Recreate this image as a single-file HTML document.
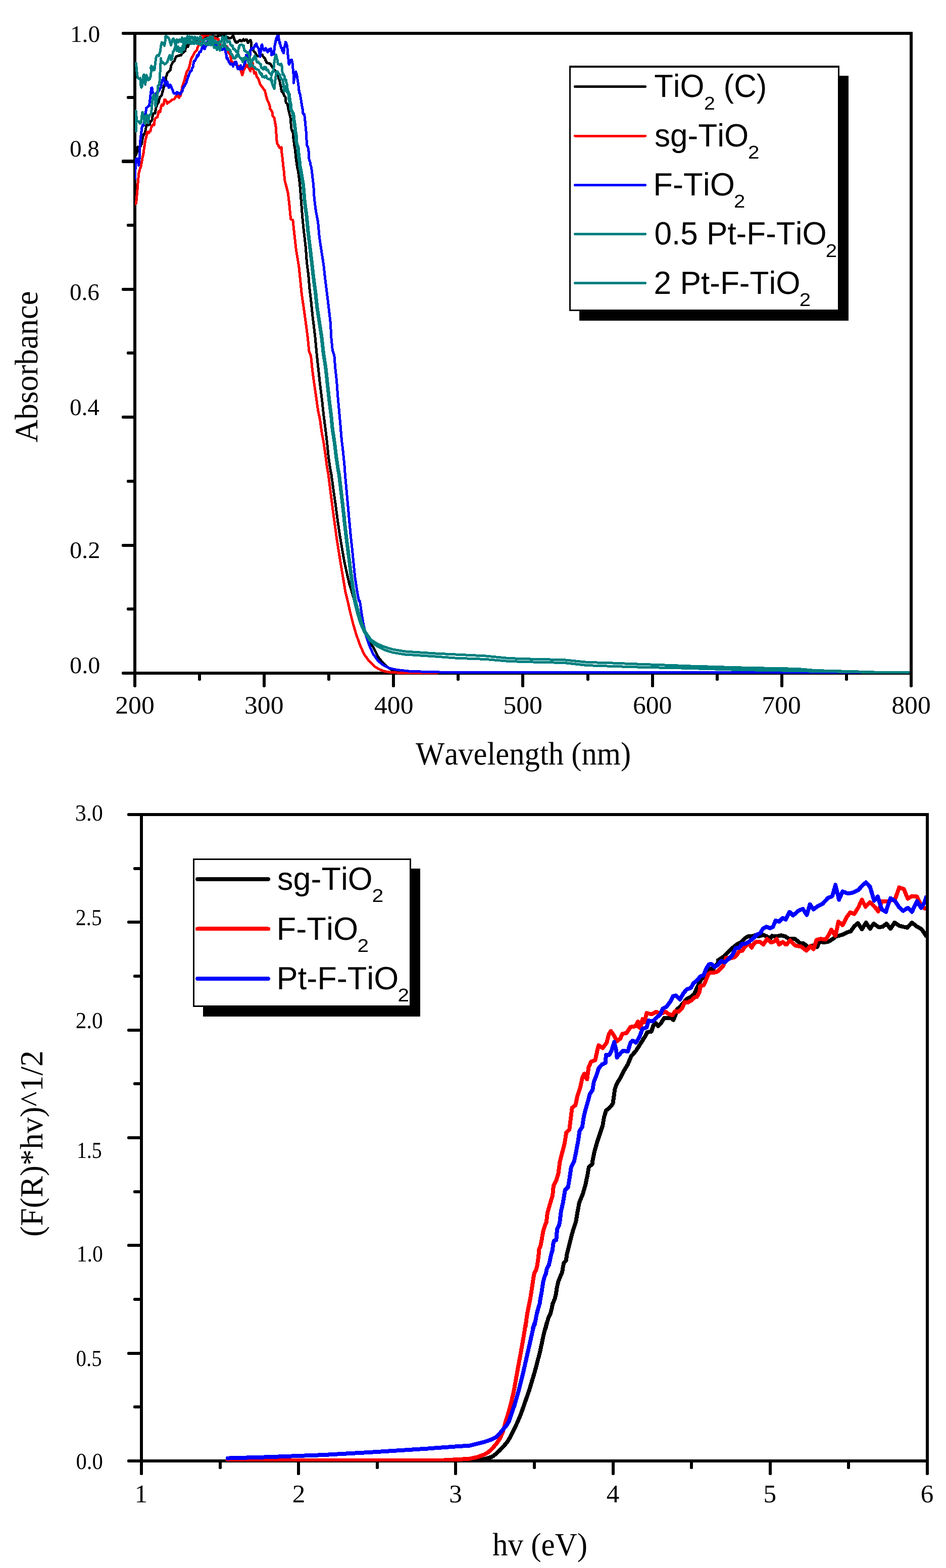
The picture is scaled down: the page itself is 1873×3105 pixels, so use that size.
<!DOCTYPE html>
<html lang="en">
<head>
<meta charset="utf-8">
<title>UV-Vis absorbance and Kubelka-Munk plots</title>
<style>
html,body{margin:0;padding:0;background:#fff;}
body{width:1873px;height:3105px;overflow:hidden;}
svg{display:block;}
.sr,.sn{font-kerning:none;text-rendering:geometricPrecision;}
.sr{font-family:'Liberation Serif', serif;fill:#000;}
.sn{font-family:'Liberation Sans', sans-serif;fill:#000;}
.cv path{fill:none;stroke-linejoin:round;stroke-linecap:round;}
</style>
</head>
<body>
<svg width="1873" height="3105" viewBox="0 0 1873 3105">
<defs>
<clipPath id="ct"><rect x="267" y="69" width="1534" height="1267"/></clipPath>
<clipPath id="cb"><rect x="283" y="1616" width="1550" height="1278"/></clipPath>
</defs>
<rect x="0" y="0" width="1873" height="3105" fill="#fff"/>
<g id="top-axes" shape-rendering="crispEdges">
<rect x="264" y="63" width="6" height="1273" fill="#000"/>
<rect x="1801" y="63" width="6" height="1273" fill="#000"/>
<rect x="264" y="63" width="1543" height="6" fill="#000"/>
<rect x="264" y="1330" width="1543" height="6" fill="#000"/>
<rect x="242" y="316" width="25" height="7" fill="#000"/>
<rect x="241" y="317" width="1" height="5" fill="#000"/>
<rect x="242" y="570" width="25" height="6" fill="#000"/>
<rect x="241" y="571" width="1" height="4" fill="#000"/>
<rect x="242" y="823" width="25" height="6" fill="#000"/>
<rect x="241" y="824" width="1" height="4" fill="#000"/>
<rect x="242" y="1077" width="25" height="6" fill="#000"/>
<rect x="241" y="1078" width="1" height="4" fill="#000"/>
<rect x="242" y="63" width="25" height="6" fill="#000"/>
<rect x="241" y="64" width="1" height="4" fill="#000"/>
<rect x="242" y="1330" width="25" height="6" fill="#000"/>
<rect x="241" y="1331" width="1" height="4" fill="#000"/>
<rect x="252" y="190" width="15" height="6" fill="#000"/>
<rect x="251" y="191" width="1" height="4" fill="#000"/>
<rect x="252" y="443" width="15" height="6" fill="#000"/>
<rect x="251" y="444" width="1" height="4" fill="#000"/>
<rect x="252" y="696" width="15" height="6" fill="#000"/>
<rect x="251" y="697" width="1" height="4" fill="#000"/>
<rect x="252" y="950" width="15" height="6" fill="#000"/>
<rect x="251" y="951" width="1" height="4" fill="#000"/>
<rect x="252" y="1203" width="15" height="6" fill="#000"/>
<rect x="251" y="1204" width="1" height="4" fill="#000"/>
<rect x="264" y="1333" width="6" height="27" fill="#000"/>
<rect x="265" y="1360" width="4" height="1" fill="#000"/>
<rect x="520" y="1333" width="6" height="27" fill="#000"/>
<rect x="521" y="1360" width="4" height="1" fill="#000"/>
<rect x="776" y="1333" width="6" height="27" fill="#000"/>
<rect x="777" y="1360" width="4" height="1" fill="#000"/>
<rect x="1032" y="1333" width="6" height="27" fill="#000"/>
<rect x="1033" y="1360" width="4" height="1" fill="#000"/>
<rect x="1289" y="1333" width="6" height="27" fill="#000"/>
<rect x="1290" y="1360" width="4" height="1" fill="#000"/>
<rect x="1545" y="1333" width="6" height="27" fill="#000"/>
<rect x="1546" y="1360" width="4" height="1" fill="#000"/>
<rect x="1801" y="1333" width="6" height="27" fill="#000"/>
<rect x="1802" y="1360" width="4" height="1" fill="#000"/>
<rect x="392" y="1333" width="6" height="14" fill="#000"/>
<rect x="393" y="1347" width="4" height="1" fill="#000"/>
<rect x="648" y="1333" width="6" height="14" fill="#000"/>
<rect x="649" y="1347" width="4" height="1" fill="#000"/>
<rect x="904" y="1333" width="6" height="14" fill="#000"/>
<rect x="905" y="1347" width="4" height="1" fill="#000"/>
<rect x="1161" y="1333" width="6" height="14" fill="#000"/>
<rect x="1162" y="1347" width="4" height="1" fill="#000"/>
<rect x="1417" y="1333" width="6" height="14" fill="#000"/>
<rect x="1418" y="1347" width="4" height="1" fill="#000"/>
<rect x="1673" y="1333" width="6" height="14" fill="#000"/>
<rect x="1674" y="1347" width="4" height="1" fill="#000"/>
</g>
<g id="top-curves" class="cv" shape-rendering="crispEdges">
<path d="M267.0,309.0 L268.2,307.9 L269.5,306.3 L270.6,303.3 L271.7,299.4 L272.0,298.5 L272.3,295.5 L272.5,294.7 L272.8,291.1 L273.1,290.9 L274.6,291.5 L276.2,294.0 L277.3,291.0 L278.4,289.5 L279.4,286.9 L280.5,284.9 L280.8,284.8 L281.1,281.4 L281.5,279.6 L281.8,277.3 L282.1,275.6 L282.5,271.3 L282.9,269.4 L283.3,269.6 L283.7,269.2 L285.3,264.3 L286.9,264.4 L287.3,262.9 L287.7,259.8 L288.1,257.5 L288.5,255.0 L288.9,254.1 L289.2,251.1 L289.6,249.1 L291.0,246.7 L292.3,247.4 L294.5,247.9 L296.6,246.3 L297.0,243.6 L297.3,240.9 L297.7,240.7 L299.3,239.6 L300.9,237.8 L301.3,234.0 L301.6,233.0 L302.0,230.6 L302.4,229.0 L302.7,228.3 L303.1,225.2 L305.2,224.4 L307.4,224.3 L307.8,219.8 L308.1,217.9 L308.5,216.0 L309.0,212.9 L309.6,210.2 L310.1,210.0 L310.6,208.7 L312.8,204.1 L313.3,203.5 L313.9,201.5 L314.4,201.3 L314.9,196.7 L315.6,196.2 L316.4,193.2 L317.1,191.9 L318.7,190.7 L320.3,188.2 L320.8,186.2 L321.4,183.5 L321.9,180.6 L322.4,180.8 L322.8,179.3 L323.3,175.8 L323.7,173.4 L324.2,173.0 L324.6,170.2 L325.4,167.8 L326.2,166.3 L327.0,162.4 L327.8,160.3 L328.1,158.8 L328.4,155.2 L328.6,153.9 L328.9,151.6 L329.6,150.1 L330.4,148.3 L331.1,144.7 L332.7,143.7 L334.3,142.0 L335.9,140.3 L337.5,138.2 L338.0,134.7 L338.6,132.3 L339.1,129.0 L340.0,127.8 L340.9,125.7 L341.8,123.5 L343.5,122.1 L345.1,121.0 L346.0,119.2 L346.9,116.1 L347.8,113.6 L349.1,112.4 L350.4,111.1 L352.0,110.9 L353.7,110.8 L355.3,109.8 L356.9,109.2 L358.3,109.7 L359.8,107.3 L361.2,104.5 L363.0,104.3 L364.8,101.7 L366.6,101.0 L367.0,97.9 L367.3,96.0 L367.7,92.9 L369.8,90.9 L372.0,92.6 L372.7,90.9 L373.4,87.3 L374.1,87.8 L376.2,84.8 L378.4,84.6 L381.1,85.3 L383.8,86.1 L385.6,84.3 L387.4,82.5 L389.2,82.2 L391.0,80.4 L392.8,79.3 L394.6,78.9 L396.4,77.0 L398.2,78.5 L400.0,77.1 L401.8,75.4 L403.6,74.7 L405.4,74.1 L408.0,74.0 L410.7,73.2 L413.0,72.0 L415.4,71.6 L417.7,72.9 L420.0,70.7 L417.7,71.2 L415.4,72.7 L413.1,70.7 L410.8,72.2 L412.9,72.6 L415.1,73.4 L417.2,72.8 L419.4,71.9 L421.5,71.0 L423.7,72.8 L425.8,72.7 L428.0,73.0 L430.1,72.7 L432.3,71.3 L434.5,70.5 L436.6,69.4 L438.8,70.7 L440.9,71.2 L443.1,70.3 L445.2,71.8 L447.4,73.1 L448.7,73.3 L450.3,73.1 L451.9,75.1 L453.5,76.1 L455.1,75.1 L456.8,75.4 L458.5,74.2 L460.2,71.8 L462.2,71.6 L462.9,73.8 L463.6,78.2 L464.3,78.2 L464.9,80.2 L465.6,81.6 L467.0,84.0 L468.3,84.5 L469.6,82.5 L471.0,83.1 L472.3,81.7 L473.6,80.1 L475.3,79.3 L476.5,80.5 L477.7,81.8 L479.7,80.8 L480.7,79.0 L481.7,77.8 L482.7,79.0 L483.7,80.3 L485.8,79.1 L487.8,78.1 L488.8,78.8 L489.8,82.3 L490.8,84.6 L491.8,84.5 L492.8,81.8 L493.8,80.8 L495.9,79.1 L496.5,82.1 L497.2,82.4 L497.4,87.0 L497.7,89.1 L497.9,90.6 L497.8,90.7 L497.6,94.1 L497.5,97.5 L499.1,97.8 L500.6,98.3 L502.2,101.2 L503.9,103.1 L505.2,104.2 L506.6,107.1 L508.6,109.5 L510.7,111.2 L513.0,110.9 L515.4,110.1 L517.4,108.7 L519.4,108.5 L520.8,112.0 L522.1,113.0 L523.5,115.1 L524.8,115.7 L525.8,119.7 L526.8,121.4 L528.1,124.2 L529.5,124.6 L531.2,125.2 L532.9,125.4 L535.6,126.8 L536.6,128.8 L537.6,130.8 L538.8,132.0 L540.0,133.7 L541.3,136.5 L542.6,137.2 L543.8,138.9 L545.1,139.6 L546.4,143.2 L548.0,143.4 L549.7,144.5 L550.2,148.4 L550.8,150.7 L551.3,151.9 L551.8,155.8 L552.3,155.4 L552.9,157.4 L553.5,160.4 L554.0,162.0 L554.4,164.0 L554.8,166.6 L555.3,168.0 L555.7,171.1 L556.1,170.9 L556.5,174.4 L556.9,177.5 L557.3,178.1 L557.7,180.5 L558.7,182.3 L559.7,182.7 L560.4,184.2 L561.1,184.6 L561.8,187.5 L563.5,191.0 L565.1,192.3 L565.3,193.9 L565.5,196.9 L565.7,198.9 L565.9,201.3 L566.1,203.1 L567.8,205.2 L569.4,205.9 L569.8,210.0 L570.2,211.6 L570.6,213.4 L571.0,216.5 L571.5,218.6 L572.1,221.2 L572.6,223.2 L573.1,225.3 L573.7,227.1 L574.2,229.0 L574.8,231.4 L575.0,233.1 L575.3,235.6 L575.5,238.5 L575.8,240.1 L575.9,242.8 L576.0,245.1 L576.2,247.3 L576.3,249.2 L576.4,250.2 L576.9,254.2 L577.4,257.0 L578.3,258.6 L579.2,261.6 L580.1,263.2 L580.2,265.2 L580.4,267.9 L580.6,270.6 L580.7,272.7 L581.0,275.0 L581.4,277.9 L581.7,280.6 L582.0,281.5 L582.2,283.5 L582.5,286.8 L582.7,287.8 L583.0,289.8 L583.4,291.9 L583.8,294.2 L584.2,296.2 L584.6,298.4 L584.8,300.9 L584.9,302.7 L585.1,305.0 L585.2,305.8 L585.4,308.9 L585.7,311.8 L585.9,312.4 L586.2,315.4 L586.5,316.3 L586.7,318.5 L587.0,320.4 L588.5,332.0 L590.6,340.0 L593.8,366.9 L595.9,393.8 L598.6,428.8 L601.3,455.7 L605.4,490.7 L607.5,520.3 L610.7,544.6 L612.9,571.5 L616.1,598.4 L618.8,625.3 L620.7,640.0 L624.2,669.6 L626.9,699.2 L630.1,728.8 L633.6,761.1 L637.7,793.4 L640.9,823.0 L644.4,850.0 L647.6,876.9 L650.3,903.8 L653.3,925.3 L656.1,940.0 L660.1,969.6 L664.4,999.2 L668.2,1028.8 L672.5,1058.4 L677.1,1085.4 L681.7,1112.3 L686.5,1133.8 L691.4,1155.3 L696.5,1171.5 L702.7,1193.0 L704.0,1196.1 L710.1,1214.2 L716.9,1236.4 L725.8,1258.6 L735.1,1274.8 L740.8,1284.9 L748.8,1301.0 L756.9,1311.1 L765.0,1319.2 L773.1,1325.3 L781.1,1328.9 L797.3,1331.3 L821.5,1332.5 L900.0,1331.5 L1804.0,1331.5" stroke="#000000" stroke-width="5" clip-path="url(#ct)"/>
<path d="M267.0,404.1 L269.4,402.6 L269.6,400.7 L269.8,400.5 L270.1,396.2 L270.3,393.3 L270.5,392.5 L270.7,390.3 L270.9,388.5 L271.1,385.5 L271.3,384.9 L271.5,382.0 L271.7,380.9 L271.9,377.3 L272.1,374.7 L272.2,373.3 L272.4,370.6 L272.6,366.9 L272.8,366.0 L273.0,362.7 L273.1,362.1 L273.3,358.4 L273.5,357.1 L273.7,354.0 L273.9,352.7 L274.1,351.4 L274.4,349.1 L274.6,345.5 L274.8,342.7 L275.3,342.2 L275.9,339.0 L276.4,336.7 L276.9,335.8 L277.6,332.3 L278.2,332.1 L278.9,330.5 L279.6,327.7 L279.9,324.8 L280.2,323.2 L280.6,322.5 L280.9,319.2 L281.2,317.9 L281.6,314.8 L282.1,312.7 L282.5,310.7 L283.0,308.5 L283.4,306.5 L283.7,304.9 L284.1,303.1 L284.4,299.9 L284.7,297.2 L285.1,295.4 L285.4,293.1 L285.7,290.2 L286.1,289.8 L286.4,287.1 L286.7,287.0 L287.0,282.9 L287.4,280.1 L287.7,279.4 L288.0,276.9 L288.5,275.7 L289.1,273.3 L289.6,272.8 L290.1,268.9 L290.5,267.1 L290.8,264.0 L291.2,261.4 L292.9,261.0 L294.5,263.4 L296.1,260.0 L297.7,260.0 L298.2,257.9 L298.8,255.7 L299.3,251.9 L300.0,252.1 L300.8,249.1 L301.5,248.1 L303.4,246.5 L305.2,247.3 L305.6,242.7 L305.9,240.5 L306.3,238.4 L307.4,234.8 L308.5,233.4 L310.1,232.6 L311.7,231.9 L312.1,229.3 L312.5,228.8 L313.0,226.8 L313.4,224.1 L313.8,220.9 L315.5,220.9 L317.1,221.5 L317.6,218.8 L318.2,215.4 L318.7,211.9 L319.2,211.5 L319.8,209.4 L320.3,207.0 L321.6,208.4 L323.0,209.0 L323.5,207.2 L324.1,205.6 L324.6,205.1 L324.9,202.8 L325.1,199.9 L325.4,198.2 L325.7,197.4 L327.3,197.4 L328.9,200.2 L330.0,201.1 L331.1,205.3 L332.7,202.3 L334.3,202.7 L335.9,201.5 L337.5,200.1 L339.1,199.3 L340.8,197.4 L343.0,197.0 L345.1,196.3 L346.2,194.8 L347.2,193.0 L348.3,190.3 L349.9,190.2 L351.5,188.1 L352.4,189.6 L353.3,192.0 L354.2,193.4 L355.5,192.0 L356.9,190.1 L357.4,189.2 L358.0,187.0 L358.5,183.9 L359.1,183.0 L359.6,179.9 L360.0,177.4 L360.3,175.2 L360.6,174.1 L361.0,171.7 L361.4,169.9 L361.7,169.1 L362.5,166.4 L363.4,163.9 L364.2,161.3 L365.0,159.8 L365.5,157.5 L366.1,155.4 L366.6,152.3 L367.2,151.6 L367.7,148.7 L368.2,148.9 L368.8,145.5 L369.3,144.3 L369.8,142.0 L371.5,139.2 L373.1,137.7 L373.8,135.1 L374.4,133.0 L375.1,131.0 L375.7,127.6 L376.1,127.7 L376.5,125.0 L377.0,122.4 L377.4,121.2 L378.3,117.5 L379.2,114.6 L380.1,114.0 L381.2,111.5 L382.2,110.2 L383.3,108.1 L384.2,106.5 L385.1,104.3 L386.0,103.1 L387.6,101.9 L389.2,100.0 L389.9,99.0 L390.5,96.4 L391.2,94.4 L391.9,92.4 L392.7,91.1 L393.5,89.0 L395.1,86.1 L396.7,84.1 L397.8,81.8 L398.9,81.0 L400.0,79.5 L401.1,77.5 L402.1,75.8 L403.2,72.6 L405.4,70.2 L407.5,69.7 L410.2,69.7 L412.9,68.0 L410.8,68.5 L408.6,68.6 L406.4,70.7 L404.3,70.2 L402.1,69.1 L400.0,69.4 L402.1,70.3 L404.3,70.9 L406.5,70.6 L408.6,69.4 L411.1,69.7 L413.7,71.5 L416.2,70.8 L418.4,72.5 L420.5,72.9 L422.6,74.2 L424.8,75.3 L426.7,75.4 L428.6,76.9 L430.4,77.2 L432.3,77.2 L432.7,79.2 L433.2,82.1 L433.6,82.4 L434.1,85.5 L434.5,87.6 L435.0,89.5 L435.5,91.0 L438.0,89.9 L440.6,91.4 L443.1,91.0 L445.2,91.7 L447.4,91.3 L449.5,91.8 L449.8,92.9 L450.1,95.6 L450.3,98.0 L450.6,100.2 L451.7,102.1 L452.8,104.5 L453.8,104.4 L454.9,106.8 L456.0,107.4 L456.4,111.3 L456.8,114.3 L457.3,115.7 L457.7,118.7 L458.1,121.6 L459.8,122.2 L461.4,124.1 L463.2,125.9 L465.0,126.6 L466.8,128.1 L468.6,129.4 L470.3,129.8 L472.1,131.5 L473.2,131.8 L474.3,134.1 L475.3,136.3 L476.4,139.8 L477.5,141.6 L478.1,143.6 L478.6,145.4 L479.1,147.2 L479.7,148.9 L480.2,147.5 L480.8,145.3 L481.3,143.6 L481.8,141.4 L482.4,139.5 L482.9,137.5 L484.0,136.7 L485.0,134.6 L486.1,131.8 L487.8,128.8 L489.4,129.3 L490.5,132.0 L491.5,133.5 L492.6,134.4 L494.2,137.3 L495.8,141.1 L496.2,137.4 L496.5,134.4 L496.9,133.1 L497.3,131.7 L497.6,129.0 L498.0,126.0 L500.1,124.3 L500.4,128.2 L500.7,129.3 L501.1,133.4 L501.4,135.9 L501.7,137.7 L502.1,139.6 L502.5,141.7 L503.0,143.8 L503.4,145.6 L505.0,144.4 L506.6,143.4 L507.1,147.2 L507.6,149.5 L508.2,150.5 L508.7,152.9 L510.4,154.5 L512.0,157.0 L512.7,159.9 L513.4,161.9 L514.1,164.1 L514.8,165.6 L515.6,167.5 L516.3,168.2 L517.9,171.4 L519.5,172.0 L521.1,175.4 L522.7,177.6 L523.7,179.2 L524.7,179.2 L525.2,183.6 L525.8,184.7 L526.3,186.6 L526.8,190.0 L527.4,192.2 L528.0,193.4 L528.5,196.8 L529.6,198.7 L530.6,200.9 L531.7,202.3 L532.4,205.4 L533.1,206.7 L533.8,208.3 L534.1,209.9 L534.3,212.3 L534.6,214.7 L534.9,215.9 L536.8,218.2 L538.7,221.1 L539.0,222.3 L539.2,224.6 L539.5,226.5 L539.8,229.4 L541.4,231.7 L543.0,233.3 L543.4,235.1 L543.8,238.0 L544.2,240.3 L544.6,241.7 L545.0,244.6 L545.4,247.0 L545.8,249.6 L546.2,251.6 L546.3,253.3 L546.4,255.9 L546.6,257.7 L546.7,260.1 L546.8,263.3 L547.0,265.0 L547.2,266.6 L547.4,269.0 L547.6,271.3 L547.8,273.4 L547.9,275.1 L547.9,277.4 L548.0,278.5 L548.3,282.0 L549.5,285.7 L550.7,286.3 L551.5,289.7 L552.3,290.1 L553.1,292.2 L555.2,293.2 L557.2,291.9 L557.3,294.2 L557.4,297.3 L557.5,298.4 L557.6,301.1 L557.9,304.0 L558.2,304.0 L558.5,307.5 L558.8,309.9 L559.0,310.7 L559.2,312.6 L559.4,315.2 L559.6,317.1 L559.8,319.7 L560.0,319.9 L560.2,322.8 L560.4,325.5 L561.2,332.0 L562.3,340.0 L563.6,356.2 L570.4,383.1 L573.1,407.3 L575.7,434.2 L579.8,435.6 L582.5,461.1 L586.5,496.1 L591.9,528.4 L594.6,555.3 L597.3,582.3 L601.3,609.2 L605.4,638.8 L609.4,669.6 L612.1,696.5 L615.6,704.6 L618.3,731.5 L621.5,755.7 L625.5,782.7 L629.6,812.3 L633.6,831.1 L636.9,855.3 L640.9,876.9 L644.4,901.1 L647.1,922.6 L650.2,940.0 L654.2,972.3 L658.3,1004.6 L662.3,1034.2 L666.3,1063.8 L670.9,1093.4 L675.2,1120.3 L679.8,1147.3 L683.8,1171.5 L688.3,1190.0 L693.3,1212.2 L699.4,1236.4 L705.4,1256.6 L712.5,1276.8 L720.6,1295.0 L730.7,1309.1 L740.8,1319.2 L750.9,1325.3 L760.9,1329.3 L773.1,1331.3 L791.2,1332.3 L821.5,1332.5 L861.9,1332.1 L885.0,1331.6 L1000.0,1331.5 L1804.0,1331.5" stroke="#ff0000" stroke-width="5" clip-path="url(#ct)"/>
<path d="M267.0,353.5 L267.1,352.5 L267.2,350.7 L267.4,347.8 L267.5,346.5 L267.6,340.7 L267.8,338.6 L267.9,335.8 L268.0,333.6 L268.1,334.8 L268.2,331.3 L268.3,327.3 L268.4,325.3 L268.5,326.4 L268.6,320.6 L268.7,319.5 L268.8,319.0 L268.9,318.1 L269.0,316.1 L270.5,314.2 L272.0,314.0 L272.6,316.6 L273.2,321.4 L273.9,323.5 L274.5,327.4 L274.8,324.8 L275.1,323.1 L275.4,317.7 L275.6,315.5 L275.9,315.2 L276.2,313.8 L276.5,309.8 L276.4,310.9 L276.4,303.9 L276.3,304.2 L276.3,300.7 L276.2,300.6 L276.4,298.7 L276.5,295.3 L276.7,294.4 L276.9,293.8 L277.0,288.6 L277.2,286.4 L277.4,283.9 L277.6,282.8 L277.9,279.6 L278.1,276.1 L278.3,277.9 L278.5,272.7 L278.7,269.1 L279.0,271.1 L279.2,266.1 L279.4,266.8 L279.7,265.6 L280.0,260.0 L280.4,257.6 L280.7,259.2 L281.0,252.5 L281.5,251.1 L282.1,249.7 L282.6,247.5 L284.2,248.7 L285.8,244.3 L286.1,239.4 L286.5,242.5 L286.8,239.0 L287.2,235.6 L287.5,236.6 L287.7,233.0 L287.9,230.7 L288.1,226.3 L288.3,225.2 L288.5,225.5 L288.8,222.0 L289.1,218.4 L289.3,214.4 L289.6,215.3 L291.0,212.6 L292.3,211.7 L293.9,210.2 L295.5,209.4 L295.8,205.9 L296.1,204.4 L296.3,200.8 L296.6,200.0 L296.9,197.9 L297.1,195.7 L297.4,191.7 L297.7,191.5 L298.0,188.4 L298.2,184.9 L298.5,184.4 L298.8,183.2 L299.1,179.0 L299.3,179.9 L299.6,175.5 L299.8,174.2 L300.3,175.6 L300.9,173.8 L301.4,175.8 L301.9,181.6 L302.5,182.2 L303.0,184.1 L304.7,186.8 L306.3,187.5 L308.0,188.4 L309.4,184.5 L310.9,186.2 L312.4,178.5 L313.8,181.6 L314.9,177.4 L316.0,177.8 L317.0,174.9 L318.1,173.5 L318.8,173.2 L319.4,167.7 L320.1,163.2 L320.7,163.3 L321.4,158.8 L321.9,159.3 L322.4,157.2 L323.0,157.3 L323.5,153.7 L324.2,157.1 L324.9,156.0 L325.5,160.8 L326.2,161.9 L327.1,165.6 L328.0,169.4 L328.9,168.8 L330.0,166.9 L331.1,161.9 L331.7,164.2 L332.4,170.2 L333.0,166.5 L333.7,170.7 L334.3,173.8 L335.9,172.1 L337.5,168.0 L338.6,170.9 L339.7,173.7 L340.8,176.9 L341.5,177.2 L342.3,178.8 L343.0,182.6 L344.0,184.8 L345.0,185.3 L347.0,184.5 L348.2,185.1 L349.4,186.6 L350.7,182.6 L352.0,183.3 L354.0,184.9 L355.5,184.4 L357.0,186.9 L358.0,183.8 L359.0,182.2 L360.0,180.6 L360.8,181.4 L361.5,177.8 L362.3,172.7 L363.4,173.8 L364.5,169.9 L365.5,170.2 L366.6,167.5 L367.7,166.5 L368.7,164.3 L369.8,160.7 L370.2,158.6 L370.7,157.6 L371.1,155.8 L371.6,155.0 L372.0,154.3 L372.8,150.0 L373.6,150.4 L374.4,146.6 L375.2,144.9 L376.8,141.2 L378.4,141.0 L379.2,139.8 L380.0,136.8 L380.9,134.2 L381.7,133.3 L382.1,132.6 L382.5,130.1 L383.0,125.9 L383.4,125.8 L383.8,122.2 L384.9,120.1 L386.0,120.7 L387.1,117.8 L388.2,115.7 L389.2,113.8 L390.3,109.4 L391.4,111.8 L392.8,110.7 L394.3,104.2 L395.7,102.4 L396.5,102.7 L397.3,102.8 L398.1,100.1 L398.9,98.4 L400.0,94.9 L401.0,92.8 L402.1,92.8 L403.8,92.2 L405.4,97.1 L406.2,94.5 L407.0,91.6 L407.8,88.9 L408.6,90.1 L410.2,85.8 L411.8,81.4 L413.4,84.1 L415.0,84.3 L413.1,89.0 L411.2,87.5 L409.4,90.0 L407.5,91.7 L405.6,93.9 L403.8,91.4 L401.9,95.2 L400.0,94.9 L401.1,93.7 L402.2,89.5 L403.8,94.0 L405.4,95.8 L406.2,93.8 L407.0,92.0 L407.8,88.0 L408.6,84.8 L410.2,85.6 L411.8,80.8 L413.5,86.5 L415.1,84.3 L417.2,83.2 L419.4,88.0 L421.5,87.8 L423.3,87.4 L425.1,88.1 L426.9,88.7 L428.7,87.9 L430.5,91.9 L432.3,92.8 L433.9,93.4 L435.5,94.5 L437.3,96.6 L439.1,98.4 L440.9,98.3 L443.0,96.3 L445.2,96.0 L445.6,95.9 L446.1,100.5 L446.5,103.3 L447.0,104.3 L447.4,106.5 L447.8,108.5 L448.1,108.6 L448.5,114.7 L449.6,116.2 L450.6,115.0 L451.7,117.8 L452.4,121.4 L453.1,123.1 L453.8,123.2 L454.9,125.4 L456.0,127.4 L457.6,127.2 L459.2,125.8 L459.9,127.9 L460.7,128.6 L461.4,131.5 L462.5,128.3 L463.5,128.3 L464.6,124.7 L465.7,122.1 L466.8,122.0 L467.3,122.5 L467.9,124.2 L468.4,125.5 L468.9,128.9 L469.6,133.1 L470.4,131.9 L471.1,137.0 L472.7,135.1 L474.3,136.5 L474.8,137.1 L475.4,132.6 L475.9,131.5 L476.4,129.5 L477.2,133.7 L478.0,134.5 L478.9,135.0 L479.7,137.0 L480.5,135.9 L481.3,132.4 L482.1,132.0 L482.9,130.4 L483.6,128.1 L484.4,124.0 L485.1,125.4 L485.5,121.2 L485.9,120.9 L486.4,117.2 L486.8,114.0 L487.2,109.4 L488.8,113.6 L490.4,109.7 L492.0,112.4 L493.7,114.2 L494.1,116.6 L494.5,115.3 L494.7,116.5 L494.9,111.0 L495.0,109.2 L495.2,109.8 L495.4,104.7 L495.7,102.6 L495.9,98.7 L497.2,99.1 L498.5,94.9 L500.2,96.7 L501.9,95.9 L503.2,93.1 L504.6,89.7 L506.0,91.3 L507.3,86.5 L508.1,88.3 L508.9,91.2 L509.7,92.3 L510.9,94.5 L512.0,95.8 L512.4,98.7 L512.8,99.1 L513.2,104.2 L513.5,105.2 L513.9,107.5 L514.3,110.3 L514.7,111.3 L515.0,112.1 L515.4,105.7 L515.7,105.3 L516.1,103.5 L516.4,100.0 L516.7,96.7 L517.1,94.2 L517.4,94.9 L517.8,90.7 L518.1,89.3 L518.9,88.3 L519.6,92.1 L520.4,95.6 L521.6,97.2 L522.8,99.7 L524.5,99.3 L525.0,99.7 L525.6,96.2 L526.1,95.4 L527.2,97.4 L528.2,98.2 L528.7,100.7 L529.3,102.7 L529.8,103.3 L530.8,102.7 L531.9,100.1 L533.0,97.5 L534.2,97.8 L536.2,96.1 L536.4,99.2 L536.7,101.2 L536.9,101.8 L537.1,104.2 L537.4,109.1 L537.6,109.1 L538.0,105.5 L538.5,103.5 L538.9,102.7 L540.0,105.4 L541.0,102.9 L542.1,108.0 L542.4,103.0 L542.6,101.2 L542.9,98.1 L543.2,99.2 L543.4,96.4 L543.7,91.3 L544.1,90.7 L544.6,85.9 L545.0,85.2 L545.5,84.0 L545.9,80.9 L546.6,80.3 L547.2,74.9 L547.9,78.7 L548.6,73.6 L549.7,69.4 L550.7,68.5 L551.1,69.5 L551.6,72.2 L552.0,76.8 L552.5,77.4 L552.9,80.9 L553.3,82.8 L553.8,85.8 L554.2,84.2 L554.7,85.8 L555.1,89.4 L555.9,92.7 L556.7,94.6 L557.5,94.6 L558.3,97.2 L559.1,100.9 L559.9,102.1 L560.7,100.3 L561.5,105.2 L561.9,103.0 L562.3,99.9 L562.7,96.8 L563.1,92.4 L563.6,92.8 L564.2,91.4 L564.8,89.0 L565.3,83.4 L566.9,85.5 L567.4,87.4 L568.0,90.1 L568.5,90.2 L568.7,93.8 L568.9,95.0 L569.2,98.2 L569.4,100.7 L569.6,103.5 L569.8,103.9 L570.0,108.5 L570.3,111.9 L570.5,111.7 L570.7,114.1 L570.9,115.9 L571.1,117.7 L571.4,120.0 L571.6,121.9 L571.8,126.4 L572.3,127.0 L572.8,127.7 L573.4,125.4 L573.9,123.5 L574.5,119.8 L575.5,120.2 L576.6,119.1 L577.3,118.2 L578.1,120.6 L578.8,122.8 L579.0,125.0 L579.3,129.1 L579.5,129.1 L579.8,133.2 L580.0,136.0 L580.2,139.5 L580.5,139.7 L580.7,142.1 L580.9,145.2 L581.0,144.8 L581.1,148.1 L581.2,151.7 L581.3,152.1 L581.4,155.2 L581.5,157.8 L581.5,159.8 L581.5,162.7 L581.5,164.3 L581.8,160.9 L582.1,158.8 L582.4,156.6 L582.7,156.5 L583.0,153.7 L583.3,151.2 L583.6,148.2 L584.3,149.2 L585.1,145.5 L585.8,141.9 L586.5,145.5 L587.2,146.6 L587.9,149.2 L588.2,152.1 L588.5,154.1 L588.7,155.1 L589.0,157.0 L589.3,158.9 L589.6,160.2 L590.0,162.5 L590.3,167.2 L590.6,167.4 L590.9,168.9 L591.1,171.3 L591.4,172.1 L591.7,176.3 L591.9,177.3 L592.2,180.0 L591.4,177.8 L592.1,178.8 L592.8,184.2 L593.4,184.7 L594.1,186.2 L594.5,188.6 L594.9,191.5 L595.3,193.9 L595.7,195.8 L596.1,198.3 L596.5,201.7 L597.0,204.8 L597.4,205.4 L597.8,208.8 L598.2,211.8 L598.6,214.4 L599.0,215.4 L599.3,217.4 L599.5,219.8 L599.8,222.7 L600.1,225.4 L601.4,225.7 L602.7,226.2 L602.9,228.4 L603.1,231.4 L603.4,232.9 L603.6,235.1 L603.8,237.6 L604.0,239.5 L604.2,241.9 L604.5,243.3 L604.7,246.1 L604.9,248.7 L605.1,250.4 L605.3,252.9 L605.6,255.2 L605.8,256.9 L606.0,259.8 L606.1,261.6 L606.2,263.8 L606.3,265.5 L606.4,267.7 L606.5,270.5 L606.6,271.5 L606.7,274.4 L606.9,274.7 L607.0,277.1 L607.1,279.5 L607.1,282.5 L607.2,284.3 L607.2,286.1 L608.0,288.8 L608.9,289.7 L609.7,291.3 L610.1,293.4 L610.5,295.6 L610.9,297.9 L611.1,300.4 L611.2,302.6 L611.4,303.5 L611.5,307.6 L611.7,308.2 L611.8,310.7 L611.9,312.0 L612.0,314.9 L612.1,316.4 L613.7,319.5 L614.0,321.1 L614.2,323.9 L614.5,325.1 L615.3,327.9 L616.1,330.3 L617.0,336.0 L617.5,340.0 L620.7,366.9 L622.3,393.8 L625.5,418.1 L629.6,439.6 L632.3,469.2 L636.3,496.1 L640.9,525.7 L643.8,552.7 L647.6,582.3 L651.1,611.9 L654.3,638.8 L656.0,669.6 L658.4,693.8 L661.9,704.6 L663.8,728.8 L666.7,755.7 L668.6,782.7 L671.3,812.3 L674.0,841.9 L676.2,868.8 L679.4,895.7 L682.1,922.6 L683.3,940.0 L686.0,969.6 L688.7,999.2 L691.4,1028.8 L694.1,1058.4 L697.3,1088.0 L700.0,1115.0 L702.7,1141.9 L706.7,1168.8 L710.7,1190.3 L712.5,1190.0 L715.5,1212.2 L719.6,1236.4 L724.6,1258.6 L730.7,1276.8 L738.7,1295.0 L748.8,1309.1 L758.9,1317.2 L771.0,1323.3 L785.2,1326.3 L811.4,1329.3 L841.7,1330.3 L882.1,1331.3 L960.0,1331.7 L1000.0,1331.5 L1804.0,1331.5" stroke="#0000ff" stroke-width="5" clip-path="url(#ct)"/>
<path d="M266.7,125.6 L269.6,125.6 L269.7,127.6 L269.9,129.6 L270.0,131.6 L270.1,133.6 L270.3,135.8 L270.6,138.1 L270.8,140.3 L271.1,142.8 L271.3,145.2 L271.6,147.7 L272.0,149.9 L272.4,152.2 L272.8,154.4 L275.5,155.8 L277.6,154.8 L277.8,156.9 L278.0,159.0 L278.2,161.1 L278.4,163.1 L278.5,165.1 L278.6,167.2 L278.8,169.2 L279.2,171.2 L279.7,173.3 L281.4,170.6 L281.7,168.3 L282.0,166.1 L282.3,163.8 L282.5,161.8 L282.6,159.8 L282.8,157.8 L283.0,155.8 L283.3,153.8 L283.6,151.7 L283.9,149.7 L285.0,147.6 L285.8,149.6 L286.6,151.7 L286.8,153.7 L287.0,155.8 L287.1,157.8 L287.3,159.8 L287.4,162.3 L287.6,164.9 L287.7,167.4 L287.9,165.2 L288.1,162.9 L288.4,160.7 L288.6,158.5 L288.9,156.1 L289.1,153.6 L289.4,151.1 L289.7,148.7 L290.6,150.4 L291.4,152.0 L292.3,153.7 L293.0,156.1 L293.6,158.5 L296.3,157.1 L297.0,154.9 L297.7,152.6 L298.4,150.4 L298.6,148.4 L298.8,146.4 L299.0,144.3 L299.2,142.3 L299.4,140.3 L299.2,138.1 L298.9,135.8 L298.7,133.6 L299.4,132.1 L300.0,130.5 L302.1,132.9 L302.6,135.0 L303.2,137.0 L303.7,139.1 L305.8,138.3 L306.1,136.3 L306.3,134.2 L306.6,132.2 L306.8,130.2 L307.1,128.2 L307.3,126.1 L307.6,124.1 L307.8,122.1 L308.1,120.1 L308.5,118.0 L308.8,116.0 L309.1,114.0 L309.8,112.0 L310.5,110.0 L311.8,109.5 L314.5,110.5 L315.2,108.3 L315.9,106.1 L316.5,103.9 L317.2,101.7 L317.5,99.3 L317.9,97.0 L318.2,94.7 L318.5,92.3 L318.9,90.2 L319.4,88.1 L319.8,86.0 L320.2,83.9 L321.8,85.1 L323.3,86.2 L324.5,88.4 L325.6,90.6 L325.9,88.5 L326.3,86.4 L326.6,84.4 L327.0,82.3 L327.3,80.2 L327.5,78.0 L327.6,75.9 L327.8,73.8 L328.0,71.6 L329.6,72.2 L331.3,72.8 L332.6,74.2 L334.0,75.5 L335.0,77.8 L336.0,80.2 L336.5,82.0 L336.9,83.8 L337.4,85.6 L337.9,87.7 L338.4,89.8 L339.1,87.7 L339.7,85.7 L340.4,83.6 L340.9,81.6 L341.3,79.5 L341.8,77.5 L343.4,76.6 L344.2,78.1 L345.0,79.6 L345.5,81.8 L346.0,84.0 L346.6,86.1 L347.1,88.3 L347.6,90.5 L348.0,88.5 L348.4,86.4 L348.9,84.3 L349.3,82.3 L349.7,80.2 L350.1,78.2 L351.0,80.1 L351.9,82.0 L352.8,83.9 L353.6,82.0 L354.5,80.2 L355.3,78.3 L356.8,80.4 L358.2,82.6 L358.8,80.6 L359.4,78.5 L359.9,76.5 L360.5,74.5 L361.0,76.6 L361.5,78.7 L361.9,80.8 L362.4,82.8 L362.9,84.9 L363.4,87.0 L363.8,84.8 L364.2,82.6 L364.7,80.4 L365.1,78.2 L365.5,76.0 L367.0,77.5 L368.5,79.1 L369.4,76.7 L370.3,74.3 L371.2,71.9 L371.9,74.1 L372.5,76.2 L373.2,78.4 L373.9,76.3 L374.6,74.1 L375.3,72.0 L376.5,74.0 L377.6,75.9 L378.9,74.3 L380.1,72.7 L381.1,74.6 L382.0,76.5 L383.0,78.4 L383.9,76.6 L384.8,74.7 L385.7,72.9 L386.6,74.7 L387.5,76.4 L388.4,78.2 L389.5,76.3 L390.7,74.4 L391.7,76.5 L392.8,78.7 L393.8,80.8 L394.5,78.7 L395.2,76.7 L395.9,74.6 L396.6,72.5 L397.2,74.4 L397.8,76.2 L398.3,78.1 L398.9,80.0 L400.9,79.2 L402.1,80.5 L403.4,81.8 L404.6,79.6 L405.8,77.4 L408.7,78.0 L409.9,76.7 L411.0,75.3 L411.8,77.7 L412.7,80.0 L413.5,82.4 L414.0,80.3 L414.5,78.3 L414.9,76.2 L415.4,74.2 L415.9,72.1 L416.6,74.4 L417.2,76.7 L417.9,78.9 L418.6,81.2 L419.2,79.0 L419.8,76.7 L420.3,74.5 L420.9,72.2 L421.2,74.3 L421.6,76.4 L421.9,78.5 L422.3,80.5 L422.6,82.6 L423.0,84.7 L423.3,86.8 L424.2,84.6 L425.2,82.5 L426.1,80.3 L426.9,82.0 L427.6,83.7 L428.4,85.4 L430.5,83.3 L431.2,85.3 L431.9,87.3 L432.6,89.3 L433.4,86.9 L434.3,84.5 L435.1,82.1 L436.5,83.0 L437.9,84.0 L438.5,81.7 L439.0,79.4 L439.6,77.2 L440.1,74.9 L440.7,72.6 L441.5,74.7 L442.3,76.7 L443.1,78.8 L444.2,77.0 L445.4,75.2 L446.4,73.4 L447.4,71.6 L447.7,73.8 L448.0,75.9 L448.4,78.0 L448.7,80.2 L450.3,83.3 L451.9,81.9 L453.5,82.6 L454.6,81.9 L455.7,86.8 L456.8,89.0 L457.9,89.1 L459.1,90.9 L460.2,90.1 L461.9,97.3 L463.6,97.0 L465.2,97.7 L466.9,101.6 L468.6,103.1 L470.3,104.6 L471.4,106.3 L472.5,109.0 L473.6,112.0 L475.0,114.1 L476.3,115.5 L478.0,115.0 L478.4,118.1 L478.9,118.2 L479.3,117.6 L479.7,119.9 L480.4,122.7 L481.0,116.0 L482.1,115.6 L483.1,115.2 L484.5,118.0 L485.8,113.2 L488.5,115.0 L489.5,117.3 L490.5,119.1 L491.5,122.2 L492.5,125.4 L493.5,126.8 L494.5,131.5 L495.5,131.7 L496.5,127.4 L499.2,128.4 L501.9,132.2 L504.6,133.4 L507.3,137.1 L509.6,137.5 L512.0,139.1 L512.8,139.4 L513.6,142.2 L514.4,143.9 L515.2,144.7 L516.6,148.0 L518.1,145.9 L519.5,152.2 L521.6,151.1 L523.8,153.6 L525.2,151.1 L526.7,150.0 L528.1,153.5 L529.5,155.8 L531.0,156.1 L532.4,156.7 L534.5,157.2 L536.7,154.1 L537.4,161.2 L538.0,158.3 L538.7,164.5 L539.3,167.4 L540.0,168.5 L541.1,172.5 L542.1,172.7 L543.2,175.8 L543.5,170.2 L543.8,167.4 L544.0,166.6 L544.3,165.7 L544.6,165.2 L544.9,158.8 L545.1,157.8 L545.4,155.3 L545.6,156.2 L545.8,151.4 L546.0,152.6 L546.1,147.5 L546.3,144.6 L546.5,142.5 L548.1,141.7 L549.7,142.0 L551.9,146.6 L554.0,148.0 L555.1,154.8 L556.1,153.8 L557.2,156.4 L558.3,157.1 L558.9,158.7 L559.6,158.9 L560.2,161.4 L560.9,167.7 L561.5,166.9 L561.8,169.0 L562.0,172.9 L562.3,173.4 L562.6,175.4 L562.8,180.8 L563.1,180.4 L563.6,177.0 L564.1,174.8 L564.6,172.0 L565.1,171.3 L564.5,171.6 L565.1,171.9 L565.8,174.3 L566.4,174.5 L567.1,178.1 L567.7,181.4 L568.8,181.0 L569.8,183.9 L570.9,184.9 L571.1,187.4 L571.3,190.5 L571.6,191.1 L571.8,195.8 L572.0,198.1 L572.4,200.1 L572.9,199.9 L573.3,200.9 L573.8,204.6 L574.2,207.5 L574.3,209.5 L574.4,211.5 L574.6,213.9 L574.7,215.6 L576.0,218.8 L577.2,218.8 L578.5,222.7 L579.0,225.0 L579.6,226.2 L580.1,230.9 L580.2,231.3 L580.4,233.4 L580.5,234.2 L580.6,237.7 L581.0,239.8 L581.4,242.8 L581.8,243.5 L582.2,247.0 L582.4,247.1 L582.6,250.4 L582.9,251.1 L583.1,254.7 L583.3,257.5 L583.6,257.8 L583.9,261.8 L584.3,263.7 L584.6,264.3 L584.9,266.9 L585.0,269.3 L585.1,272.1 L585.2,274.8 L585.3,275.3 L585.4,277.1 L585.5,279.6 L586.0,281.0 L586.4,285.5 L587.2,287.3 L588.1,289.3 L588.9,292.5 L589.1,293.9 L589.3,296.1 L589.5,299.6 L589.7,301.1 L589.9,303.7 L590.2,305.7 L590.4,308.2 L590.7,310.6 L590.9,312.9 L591.2,314.1 L591.5,317.5 L591.8,318.6 L592.1,320.6 L592.3,323.5 L592.5,325.2 L592.7,327.9 L592.9,330.6 L594.9,340.0 L599.4,366.9 L602.1,399.2 L606.1,428.8 L608.8,458.4 L612.8,490.7 L616.3,520.3 L619.6,550.0 L623.6,579.6 L626.8,609.2 L630.9,636.1 L635.7,666.9 L639.2,699.2 L643.8,728.8 L647.0,758.4 L650.5,790.7 L654.6,823.0 L657.2,850.0 L661.3,876.9 L664.5,903.8 L668.0,928.0 L670.3,940.0 L673.8,969.6 L677.3,999.2 L680.5,1028.8 L683.8,1058.4 L687.3,1085.4 L690.8,1112.3 L694.0,1139.2 L698.0,1166.1 L701.4,1190.0 L707.4,1214.2 L713.5,1234.4 L721.6,1252.6 L731.7,1267.7 L746.8,1279.8 L760.9,1286.9 L777.1,1292.0 L801.3,1296.0 L831.6,1298.0 L861.9,1300.0 L902.3,1303.1 L962.0,1305.5 L1008.0,1309.5 L1055.0,1311.0 L1117.0,1312.5 L1163.0,1317.6 L1210.0,1319.3 L1271.0,1321.3 L1333.0,1322.6 L1360.0,1323.3 L1458.0,1326.3 L1579.0,1328.6 L1690.0,1330.6 L1725.0,1331.6 L1804.0,1332.0" stroke="#008080" stroke-width="5" clip-path="url(#ct)"/>
<path d="M267.0,259.7 L269.2,259.7 L269.2,257.4 L269.2,255.1 L269.2,252.9 L269.2,250.6 L269.2,248.3 L269.2,246.0 L269.2,243.8 L269.2,241.5 L269.2,239.2 L269.2,237.0 L269.2,234.9 L269.2,232.7 L269.2,230.6 L269.2,228.4 L269.2,226.3 L269.2,224.1 L269.2,222.0 L269.2,219.8 L269.4,222.0 L269.6,224.1 L269.7,226.3 L269.9,228.4 L270.1,230.6 L270.3,232.7 L270.4,234.9 L270.6,237.0 L270.8,239.2 L272.4,239.8 L274.0,240.3 L275.6,242.4 L277.2,244.6 L279.4,242.4 L279.7,240.1 L279.9,237.8 L280.2,235.4 L280.5,233.1 L280.7,230.8 L281.0,228.5 L281.4,226.3 L281.7,224.2 L282.1,222.0 L282.8,224.2 L283.5,226.3 L284.2,228.5 L284.5,230.9 L284.8,233.2 L285.2,235.6 L285.5,237.9 L285.8,240.3 L286.4,242.4 L286.9,244.6 L287.3,242.3 L287.6,239.9 L288.0,237.6 L288.4,235.3 L288.7,232.9 L289.1,230.6 L289.9,229.0 L290.7,227.4 L291.0,229.6 L291.2,231.7 L291.5,233.9 L291.8,236.0 L292.0,238.2 L292.3,240.3 L292.9,241.9 L293.4,243.5 L293.7,241.1 L293.9,238.7 L294.2,236.2 L294.5,233.8 L295.0,231.7 L295.6,229.5 L296.1,227.4 L298.8,226.3 L299.1,224.1 L299.4,222.0 L299.8,219.8 L300.1,217.7 L300.4,215.5 L300.6,213.2 L300.8,210.8 L300.9,208.5 L301.1,206.2 L301.3,203.8 L301.5,201.5 L301.8,199.4 L302.1,197.2 L302.5,195.1 L302.8,192.9 L303.1,190.8 L304.1,188.7 L305.2,186.5 L305.6,188.9 L306.0,191.3 L306.4,193.8 L306.8,196.2 L307.0,198.5 L307.2,200.8 L307.4,203.1 L307.5,205.5 L307.7,207.8 L307.9,210.1 L308.3,207.9 L308.7,205.8 L309.1,203.7 L309.5,201.5 L309.8,199.4 L310.1,197.2 L310.5,195.1 L310.8,192.9 L311.1,190.8 L311.4,188.6 L311.8,186.5 L312.1,184.3 L312.5,182.2 L312.8,180.0 L312.3,182.5 L311.8,185.0 L311.9,183.1 L312.1,181.2 L312.2,179.2 L312.4,177.3 L312.5,174.8 L312.7,172.4 L312.8,169.9 L314.8,167.9 L315.2,165.4 L315.6,163.0 L316.0,160.5 L316.1,158.5 L316.2,156.5 L316.3,154.4 L316.4,152.4 L316.5,150.4 L316.6,148.4 L316.8,146.4 L316.9,144.3 L317.1,142.3 L317.2,140.3 L317.3,138.3 L317.4,136.2 L317.6,134.2 L317.7,132.2 L317.8,130.0 L317.9,127.8 L318.0,125.7 L318.1,123.5 L318.2,121.5 L318.2,119.5 L318.3,117.4 L318.4,115.4 L318.8,117.8 L319.2,120.1 L319.9,122.3 L320.6,124.5 L323.3,123.8 L324.6,125.5 L325.9,127.2 L328.6,125.8 L330.0,124.3 L331.3,122.8 L332.0,120.8 L332.7,118.7 L333.4,116.7 L334.0,114.3 L334.7,112.0 L336.0,109.1 L336.7,111.4 L337.4,113.8 L337.9,116.2 L338.4,118.5 L340.4,117.2 L340.7,115.0 L341.1,112.7 L341.4,110.5 L341.7,108.0 L342.1,105.6 L342.4,103.1 L344.1,101.0 L345.0,98.0 L345.8,95.9 L346.5,93.8 L347.2,91.7 L348.0,89.6 L348.4,91.8 L348.8,94.0 L349.3,96.3 L349.7,98.5 L350.1,100.7 L350.7,98.7 L351.4,96.6 L352.0,94.5 L352.6,92.5 L353.0,94.6 L353.4,96.7 L353.9,98.7 L354.3,100.8 L354.7,102.9 L355.3,101.0 L355.9,99.0 L356.6,97.0 L357.2,95.1 L357.8,97.3 L358.4,99.5 L359.1,101.8 L359.7,104.0 L360.1,101.8 L360.4,99.5 L360.8,97.3 L361.1,95.1 L361.4,92.8 L361.8,90.6 L362.4,92.5 L363.1,94.4 L363.7,96.3 L364.3,98.2 L364.7,95.9 L365.1,93.6 L365.5,91.3 L365.9,89.0 L366.3,86.7 L366.7,84.4 L367.1,82.1 L368.1,83.9 L369.2,85.8 L370.1,84.0 L370.9,82.3 L371.8,80.5 L372.7,82.1 L373.6,83.8 L374.5,85.4 L375.3,83.6 L376.1,81.9 L376.9,80.1 L377.7,82.3 L378.5,84.4 L379.3,86.6 L380.6,84.5 L382.0,82.4 L383.1,84.7 L384.1,87.0 L385.0,85.0 L386.0,83.1 L386.9,81.1 L387.7,83.0 L388.6,84.8 L389.4,86.7 L390.5,85.2 L391.6,83.7 L392.8,85.6 L394.0,87.5 L396.2,85.3 L397.2,87.7 L398.3,90.0 L399.1,87.9 L399.8,85.7 L400.6,83.6 L402.1,84.5 L403.5,85.5 L405.9,84.3 L407.0,86.6 L408.2,88.9 L409.5,87.0 L410.8,85.0 L411.9,86.8 L413.0,88.6 L413.9,86.2 L414.8,83.9 L415.7,81.5 L416.3,83.5 L416.9,85.5 L417.4,87.4 L418.0,89.4 L419.0,87.2 L420.0,85.1 L421.0,82.9 L421.5,84.9 L422.0,86.9 L422.5,88.8 L423.0,90.8 L423.5,92.8 L424.0,94.8 L425.6,93.7 L427.1,92.5 L427.9,94.5 L428.8,96.4 L429.6,98.4 L430.6,96.2 L431.5,93.9 L432.5,91.7 L433.2,93.8 L434.0,95.9 L434.8,98.0 L435.5,100.1 L436.1,98.0 L436.7,96.0 L437.4,93.9 L438.0,91.9 L438.6,89.8 L440.1,91.0 L441.7,92.2 L442.2,90.2 L442.6,88.2 L443.1,86.3 L443.5,84.3 L444.0,82.3 L444.7,84.6 L445.4,86.9 L446.0,89.3 L446.7,91.6 L448.4,93.3 L450.1,98.7 L451.8,95.7 L453.5,98.2 L454.9,99.0 L456.2,100.9 L457.5,107.4 L458.8,107.2 L460.1,108.8 L461.5,113.1 L462.9,115.8 L464.2,115.5 L465.9,115.1 L467.6,110.5 L468.6,112.6 L469.6,110.1 L470.3,104.3 L470.9,102.7 L471.6,102.8 L472.0,97.7 L472.5,95.8 L472.9,93.8 L473.3,94.7 L473.9,90.4 L474.4,89.7 L475.0,89.4 L477.0,88.8 L479.0,88.8 L481.0,89.8 L481.7,92.1 L482.4,90.2 L483.0,95.6 L483.7,99.7 L485.0,101.3 L486.4,100.9 L489.1,104.4 L491.8,103.6 L492.3,106.4 L492.8,108.0 L493.1,109.4 L493.5,110.8 L494.4,113.6 L495.2,117.7 L497.9,123.8 L500.6,115.9 L501.3,118.4 L501.9,117.7 L502.6,115.6 L503.6,112.2 L504.6,110.3 L505.5,112.6 L506.3,113.2 L506.8,115.3 L507.3,118.1 L508.0,120.5 L508.6,123.2 L511.3,122.3 L514.0,126.3 L514.7,126.8 L515.4,126.8 L516.0,126.7 L516.7,129.1 L517.0,132.5 L517.4,134.7 L519.5,134.8 L521.3,137.3 L523.1,132.6 L524.9,136.8 L526.3,133.0 L527.8,139.1 L529.2,137.8 L530.6,138.4 L532.1,142.9 L533.5,144.7 L535.6,146.5 L537.8,149.4 L538.5,145.7 L539.2,142.3 L540.0,142.6 L540.7,142.4 L541.4,139.8 L542.1,133.5 L542.3,132.4 L542.5,130.9 L542.8,128.9 L543.0,123.6 L543.2,123.7 L543.4,121.1 L543.6,118.6 L543.9,122.1 L544.1,117.3 L544.3,115.2 L544.8,114.1 L545.3,110.6 L545.9,110.3 L546.4,108.5 L547.0,110.2 L547.5,111.9 L548.0,115.3 L548.6,116.2 L548.9,117.4 L549.2,120.5 L549.6,123.1 L549.9,123.3 L550.2,126.7 L551.9,126.6 L553.5,128.7 L554.9,127.4 L556.2,126.4 L556.7,129.4 L557.3,129.7 L557.8,128.5 L558.0,131.5 L558.2,130.8 L558.4,135.3 L558.6,137.1 L558.8,140.9 L559.4,143.6 L559.9,147.3 L560.5,148.6 L561.8,147.9 L563.1,151.0 L563.8,156.4 L564.5,156.2 L565.1,158.2 L565.8,159.6 L566.3,158.3 L566.9,163.2 L567.5,165.6 L568.0,166.4 L568.3,169.2 L568.5,172.9 L568.8,174.0 L569.1,176.1 L569.3,177.6 L569.6,180.2 L568.9,178.3 L568.2,175.7 L567.4,172.0 L566.7,170.0 L567.3,171.0 L568.0,176.0 L568.6,176.7 L569.3,180.2 L569.9,182.0 L571.0,181.1 L572.0,184.1 L573.1,186.6 L573.3,186.0 L573.5,190.6 L573.8,192.5 L574.0,194.0 L574.2,197.4 L574.6,197.7 L575.1,201.3 L575.5,204.6 L576.0,205.0 L576.4,208.8 L576.5,209.2 L576.6,211.8 L576.8,215.1 L576.9,216.7 L578.2,219.2 L579.4,221.6 L580.7,224.0 L581.2,224.0 L581.8,228.4 L582.3,229.0 L582.4,231.6 L582.6,233.2 L582.7,236.9 L582.8,238.1 L583.2,238.5 L583.6,241.4 L584.0,243.8 L584.4,246.1 L584.6,248.5 L584.8,250.8 L585.1,252.4 L585.3,254.7 L585.5,256.9 L585.8,258.8 L586.1,262.2 L586.5,263.5 L586.8,265.8 L587.1,268.1 L587.2,269.4 L587.3,272.8 L587.4,273.8 L587.5,276.7 L587.6,277.8 L587.7,280.6 L588.2,282.7 L588.6,284.8 L589.4,287.1 L590.3,288.7 L591.1,292.2 L591.3,293.6 L591.5,295.7 L591.7,299.6 L591.9,301.2 L592.1,303.9 L592.4,305.9 L592.6,307.4 L592.9,310.4 L593.1,313.2 L593.4,314.5 L593.7,315.8 L594.0,319.2 L594.3,320.6 L594.5,323.1 L594.7,325.1 L594.9,327.8 L595.1,329.6 L597.1,340.0 L601.6,366.9 L604.3,399.2 L608.3,428.8 L611.0,458.4 L615.0,490.7 L618.5,520.3 L621.8,550.0 L625.8,579.6 L629.0,609.2 L633.1,636.1 L637.9,666.9 L641.4,699.2 L646.0,728.8 L649.2,758.4 L652.7,790.7 L656.8,823.0 L659.4,850.0 L663.5,876.9 L666.7,903.8 L670.2,928.0 L672.5,940.0 L676.0,969.6 L679.5,999.2 L682.7,1028.8 L686.0,1058.4 L689.5,1085.4 L693.0,1112.3 L696.2,1139.2 L700.2,1166.1 L704.4,1190.0 L710.5,1214.2 L716.5,1234.4 L724.6,1252.6 L734.7,1266.7 L746.8,1274.8 L760.9,1280.9 L777.1,1285.9 L801.3,1289.9 L831.6,1292.0 L861.9,1294.0 L902.3,1296.0 L962.0,1299.0 L1008.0,1303.6 L1055.0,1305.2 L1117.0,1306.7 L1163.0,1311.4 L1210.0,1312.9 L1271.0,1315.4 L1333.0,1317.6 L1360.0,1318.8 L1474.0,1322.2 L1579.0,1324.4 L1613.0,1327.5 L1690.0,1329.7 L1737.0,1331.2 L1804.0,1331.8" stroke="#008080" stroke-width="5" clip-path="url(#ct)"/>
</g>
<g id="top-legend" shape-rendering="crispEdges">
<rect x="1662" y="150" width="18" height="485" fill="#000"/>
<rect x="1147" y="616" width="533" height="19" fill="#000"/>
<rect x="1127" y="130" width="535" height="486" fill="#000"/>
<rect x="1130" y="134" width="529" height="479" fill="#fff"/>
<line x1="1138.5" y1="171.8" x2="1277.5" y2="171.8" stroke="#000000" stroke-width="5" stroke-linecap="round"/>
<line x1="1138.5" y1="269.05" x2="1277.5" y2="269.05" stroke="#ff0000" stroke-width="5" stroke-linecap="round"/>
<line x1="1138.5" y1="366.3" x2="1277.5" y2="366.3" stroke="#0000ff" stroke-width="5" stroke-linecap="round"/>
<line x1="1138.5" y1="463.55" x2="1277.5" y2="463.55" stroke="#008080" stroke-width="5" stroke-linecap="round"/>
<line x1="1138.5" y1="560.8" x2="1277.5" y2="560.8" stroke="#008080" stroke-width="5" stroke-linecap="round"/>
</g>
<g id="bottom-axes" shape-rendering="crispEdges">
<rect x="277" y="1610" width="6" height="1286" fill="#000"/>
<rect x="1833" y="1610" width="6" height="1286" fill="#000"/>
<rect x="277" y="1610" width="1562" height="6" fill="#000"/>
<rect x="277" y="2890" width="1562" height="6" fill="#000"/>
<rect x="253" y="1823" width="27" height="6" fill="#000"/>
<rect x="252" y="1824" width="1" height="4" fill="#000"/>
<rect x="253" y="2037" width="27" height="6" fill="#000"/>
<rect x="252" y="2038" width="1" height="4" fill="#000"/>
<rect x="253" y="2250" width="27" height="6" fill="#000"/>
<rect x="252" y="2251" width="1" height="4" fill="#000"/>
<rect x="253" y="2463" width="27" height="6" fill="#000"/>
<rect x="252" y="2464" width="1" height="4" fill="#000"/>
<rect x="253" y="2677" width="27" height="6" fill="#000"/>
<rect x="252" y="2678" width="1" height="4" fill="#000"/>
<rect x="253" y="1610" width="27" height="6" fill="#000"/>
<rect x="252" y="1611" width="1" height="4" fill="#000"/>
<rect x="253" y="2890" width="27" height="6" fill="#000"/>
<rect x="252" y="2891" width="1" height="4" fill="#000"/>
<rect x="265" y="1717" width="15" height="6" fill="#000"/>
<rect x="264" y="1718" width="1" height="4" fill="#000"/>
<rect x="265" y="1930" width="15" height="6" fill="#000"/>
<rect x="264" y="1931" width="1" height="4" fill="#000"/>
<rect x="265" y="2143" width="15" height="6" fill="#000"/>
<rect x="264" y="2144" width="1" height="4" fill="#000"/>
<rect x="265" y="2357" width="15" height="6" fill="#000"/>
<rect x="264" y="2358" width="1" height="4" fill="#000"/>
<rect x="265" y="2570" width="15" height="6" fill="#000"/>
<rect x="264" y="2571" width="1" height="4" fill="#000"/>
<rect x="265" y="2783" width="15" height="6" fill="#000"/>
<rect x="264" y="2784" width="1" height="4" fill="#000"/>
<rect x="277" y="2893" width="6" height="27" fill="#000"/>
<rect x="278" y="2920" width="4" height="1" fill="#000"/>
<rect x="588" y="2893" width="6" height="27" fill="#000"/>
<rect x="589" y="2920" width="4" height="1" fill="#000"/>
<rect x="899" y="2893" width="6" height="27" fill="#000"/>
<rect x="900" y="2920" width="4" height="1" fill="#000"/>
<rect x="1211" y="2893" width="6" height="27" fill="#000"/>
<rect x="1212" y="2920" width="4" height="1" fill="#000"/>
<rect x="1522" y="2893" width="6" height="27" fill="#000"/>
<rect x="1523" y="2920" width="4" height="1" fill="#000"/>
<rect x="1833" y="2893" width="6" height="27" fill="#000"/>
<rect x="1834" y="2920" width="4" height="1" fill="#000"/>
<rect x="433" y="2893" width="6" height="15" fill="#000"/>
<rect x="434" y="2908" width="4" height="1" fill="#000"/>
<rect x="744" y="2893" width="6" height="15" fill="#000"/>
<rect x="745" y="2908" width="4" height="1" fill="#000"/>
<rect x="1055" y="2893" width="6" height="15" fill="#000"/>
<rect x="1056" y="2908" width="4" height="1" fill="#000"/>
<rect x="1366" y="2893" width="6" height="15" fill="#000"/>
<rect x="1367" y="2908" width="4" height="1" fill="#000"/>
<rect x="1677" y="2893" width="6" height="15" fill="#000"/>
<rect x="1678" y="2908" width="4" height="1" fill="#000"/>
</g>
<g id="bottom-curves" class="cv" shape-rendering="crispEdges">
<path d="M450.8,2892.0 L940.0,2892.0 L959.6,2889.2 L967.0,2887.0 L974.4,2884.8 L981.8,2879.2 L989.2,2872.2 L996.6,2864.4 L1004.0,2855.9 L1011.4,2843.7 L1018.8,2828.5 L1024.7,2815.9 L1031.3,2800.2 L1037.9,2781.3 L1047.8,2753.1 L1059.1,2715.4 L1069.0,2677.7 L1077.0,2640.0 L1082.5,2620.0 L1080.3,2630.0 L1083.0,2619.2 L1086.2,2608.4 L1090.0,2600.9 L1092.1,2592.3 L1094.3,2581.5 L1098.1,2572.9 L1100.8,2562.1 L1102.4,2551.4 L1105.1,2538.4 L1109.4,2527.7 L1113.1,2519.1 L1114.8,2508.3 L1116.4,2500.8 L1120.7,2496.4 L1122.3,2484.6 L1125.0,2473.8 L1127.7,2463.1 L1130.4,2452.3 L1133.1,2441.5 L1136.3,2430.8 L1140.1,2420.0 L1143.0,2402.3 L1147.1,2380.8 L1153.8,2364.6 L1159.2,2345.8 L1163.2,2326.9 L1165.9,2310.8 L1172.7,2305.4 L1173.1,2299.9 L1177.1,2279.9 L1182.5,2261.1 L1187.9,2245.0 L1193.2,2228.8 L1195.9,2212.7 L1200.0,2199.2 L1206.7,2193.8 L1213.4,2185.7 L1215.6,2169.6 L1217.5,2156.1 L1221.5,2145.4 L1228.2,2134.6 L1235.0,2121.1 L1243.0,2107.7 L1249.8,2091.5 L1259.2,2080.8 L1278.8,2049.9 L1281.5,2044.0 L1289.6,2042.7 L1293.6,2030.6 L1299.0,2026.5 L1303.1,2031.9 L1308.5,2026.5 L1315.2,2015.7 L1323.3,2015.7 L1328.6,2015.7 L1333.4,2019.8 L1336.7,2011.7 L1340.8,1998.3 L1346.1,1994.2 L1359.6,1978.1 L1367.7,1974.0 L1374.4,1968.6 L1381.1,1953.8 L1387.9,1940.4 L1394.6,1933.6 L1405.4,1917.5 L1412.1,1918.8 L1421.5,1906.7 L1421.5,1901.7 L1433.6,1893.6 L1441.7,1885.6 L1449.8,1877.5 L1459.9,1869.4 L1468.0,1865.4 L1476.0,1857.3 L1481.1,1854.3 L1488.1,1854.3 L1494.2,1852.2 L1502.3,1854.3 L1510.4,1851.2 L1518.4,1854.3 L1524.5,1859.3 L1528.5,1853.3 L1536.6,1854.3 L1546.7,1852.2 L1554.8,1854.3 L1562.2,1859.3 L1574.3,1859.3 L1583.4,1867.4 L1591.5,1868.4 L1599.6,1875.5 L1608.6,1872.4 L1617.7,1875.5 L1622.8,1864.4 L1630.9,1866.4 L1640.9,1864.4 L1649.0,1859.3 L1655.1,1854.3 L1667.2,1851.2 L1677.3,1846.2 L1684.4,1844.2 L1691.4,1834.1 L1698.5,1828.0 L1706.6,1840.1 L1714.6,1827.0 L1722.7,1839.1 L1729.8,1829.0 L1739.9,1836.1 L1748.0,1835.1 L1755.0,1829.0 L1763.1,1839.1 L1771.2,1827.0 L1780.3,1833.1 L1796.4,1837.1 L1805.5,1827.0 L1814.6,1834.1 L1824.7,1840.1 L1833.8,1853.3" stroke="#000000" stroke-width="8" clip-path="url(#cb)"/>
<path d="M450.8,2892.0 L870.0,2892.0 L893.8,2890.7 L915.0,2889.6 L930.0,2888.5 L944.8,2885.5 L959.6,2880.0 L967.0,2875.5 L974.4,2868.5 L981.8,2860.3 L989.2,2849.6 L994.4,2838.5 L998.1,2826.7 L1001.0,2815.6 L1005.9,2800.2 L1011.1,2781.3 L1017.7,2753.1 L1024.3,2715.4 L1031.3,2677.7 L1037.9,2640.0 L1041.0,2620.0 L1041.0,2624.6 L1042.1,2613.8 L1043.7,2603.0 L1045.8,2592.3 L1048.0,2581.5 L1050.1,2570.7 L1051.8,2560.0 L1053.4,2549.2 L1055.0,2538.4 L1056.6,2527.7 L1058.2,2520.1 L1061.5,2514.8 L1063.6,2506.1 L1065.2,2495.4 L1066.5,2484.6 L1067.4,2473.8 L1070.1,2467.4 L1072.2,2457.7 L1073.8,2446.9 L1076.0,2436.2 L1078.7,2427.5 L1081.9,2420.0 L1083.8,2402.3 L1089.2,2383.4 L1094.1,2367.3 L1095.9,2348.5 L1101.3,2337.7 L1105.4,2324.2 L1108.6,2300.0 L1113.8,2279.9 L1117.9,2263.8 L1121.4,2242.3 L1127.3,2236.9 L1130.0,2215.3 L1132.7,2193.8 L1139.4,2188.4 L1143.4,2169.6 L1148.8,2153.4 L1152.9,2134.6 L1156.9,2126.5 L1162.3,2137.3 L1165.5,2113.1 L1170.4,2102.3 L1178.4,2099.6 L1182.5,2080.8 L1185.2,2070.0 L1193.2,2075.4 L1201.3,2064.6 L1205.4,2048.5 L1209.4,2041.7 L1216.1,2051.1 L1221.5,2061.9 L1228.2,2056.5 L1232.3,2047.1 L1240.3,2045.8 L1248.4,2033.6 L1257.8,2032.3 L1263.2,2022.9 L1264.0,2033.2 L1268.1,2035.9 L1272.1,2018.4 L1276.2,2023.8 L1280.2,2006.3 L1286.9,2007.7 L1292.3,2007.7 L1299.0,2003.6 L1307.1,2007.7 L1317.9,2003.6 L1323.3,2007.7 L1331.3,2010.4 L1336.7,2002.3 L1343.4,2003.6 L1350.2,1996.9 L1355.6,1984.8 L1362.3,1984.8 L1369.0,1980.8 L1374.4,1975.4 L1379.8,1974.0 L1385.2,1963.3 L1386.5,1952.5 L1393.2,1951.1 L1398.6,1939.0 L1402.7,1928.3 L1408.0,1925.6 L1413.4,1926.2 L1420.2,1924.2 L1426.9,1917.5 L1432.3,1912.1 L1437.7,1896.7 L1445.7,1897.7 L1453.8,1895.7 L1459.9,1889.6 L1463.9,1883.5 L1470.0,1882.5 L1474.0,1875.5 L1482.1,1867.4 L1488.1,1876.5 L1492.2,1869.4 L1496.2,1865.4 L1505.3,1865.4 L1511.4,1870.4 L1518.4,1859.3 L1526.5,1866.4 L1532.6,1864.4 L1537.6,1859.3 L1542.7,1870.4 L1549.7,1865.4 L1555.8,1870.4 L1557.2,1870.4 L1564.2,1862.3 L1574.3,1872.4 L1586.4,1874.5 L1596.5,1882.5 L1604.6,1873.4 L1610.7,1879.5 L1616.7,1861.3 L1624.8,1859.3 L1634.9,1860.3 L1640.9,1851.2 L1646.0,1841.1 L1654.1,1853.3 L1660.1,1825.0 L1668.2,1832.1 L1677.3,1814.9 L1683.3,1806.8 L1691.4,1809.8 L1699.5,1796.7 L1706.6,1781.6 L1713.6,1795.7 L1722.7,1786.6 L1730.8,1794.7 L1738.9,1804.8 L1745.9,1784.6 L1758.0,1784.6 L1772.2,1780.6 L1780.3,1757.4 L1789.3,1760.4 L1797.4,1779.6 L1805.5,1774.5 L1815.6,1775.5 L1822.7,1790.7 L1830.7,1798.7 L1833.8,1799.7" stroke="#ff0000" stroke-width="8" clip-path="url(#cb)"/>
<path d="M450.8,2887.6 L530.0,2885.3 L640.0,2881.1 L740.0,2875.4 L840.0,2869.0 L900.0,2864.6 L930.0,2862.6 L944.8,2858.9 L959.6,2855.3 L974.4,2850.0 L981.8,2845.9 L989.2,2838.9 L996.6,2830.0 L1004.0,2821.1 L1007.7,2814.4 L1012.5,2800.2 L1019.1,2781.3 L1027.1,2753.1 L1036.5,2715.4 L1045.0,2677.7 L1053.5,2640.0 L1058.5,2620.0 L1055.0,2630.0 L1058.8,2622.4 L1060.4,2613.8 L1062.5,2603.0 L1065.2,2592.3 L1068.5,2581.5 L1070.1,2570.7 L1072.2,2560.0 L1073.8,2549.2 L1075.5,2538.4 L1077.6,2529.8 L1080.8,2522.3 L1083.0,2511.5 L1086.8,2505.1 L1088.9,2495.4 L1091.1,2484.6 L1093.8,2476.0 L1095.4,2463.1 L1097.0,2456.6 L1101.3,2455.5 L1102.4,2441.5 L1103.4,2432.9 L1107.2,2425.4 L1108.3,2420.0 L1110.7,2399.6 L1114.8,2380.8 L1118.8,2356.5 L1124.7,2351.1 L1128.2,2329.6 L1130.9,2310.8 L1136.7,2299.9 L1140.8,2279.9 L1144.8,2258.4 L1147.5,2239.6 L1152.9,2231.5 L1155.6,2212.7 L1159.6,2196.5 L1165.0,2177.7 L1167.7,2166.9 L1173.1,2158.8 L1175.7,2142.7 L1181.1,2129.2 L1185.2,2115.7 L1191.9,2107.7 L1198.6,2105.0 L1200.0,2088.8 L1206.7,2088.8 L1210.7,2080.8 L1216.1,2063.3 L1220.2,2080.8 L1221.5,2094.2 L1228.2,2086.1 L1233.6,2080.8 L1243.0,2082.1 L1248.4,2064.6 L1252.5,2060.6 L1259.2,2064.6 L1265.9,2053.8 L1272.1,2037.3 L1280.2,2034.6 L1284.2,2021.1 L1292.3,2022.5 L1299.0,2015.7 L1307.1,2009.0 L1312.5,1996.9 L1319.2,1994.2 L1327.3,1983.4 L1332.7,1972.7 L1338.1,1971.3 L1346.1,1979.4 L1352.9,1967.3 L1359.6,1959.2 L1367.7,1956.5 L1373.1,1947.1 L1381.1,1940.4 L1386.5,1933.6 L1393.2,1931.0 L1398.6,1917.5 L1404.0,1909.4 L1409.4,1909.4 L1414.8,1914.8 L1421.5,1910.8 L1428.2,1902.7 L1434.6,1905.7 L1441.7,1899.7 L1449.8,1891.6 L1456.9,1877.5 L1463.9,1876.5 L1469.0,1869.4 L1476.0,1868.4 L1482.1,1865.4 L1492.2,1857.3 L1499.2,1850.2 L1505.3,1848.2 L1510.4,1839.1 L1517.4,1835.1 L1524.5,1838.1 L1530.5,1835.1 L1535.6,1823.0 L1542.7,1825.0 L1549.7,1817.9 L1555.8,1820.9 L1563.2,1805.8 L1570.3,1812.9 L1580.4,1803.8 L1589.5,1799.7 L1597.5,1811.9 L1603.6,1790.7 L1610.7,1800.8 L1618.7,1794.7 L1628.8,1789.7 L1638.9,1778.6 L1648.0,1774.5 L1654.1,1752.3 L1661.1,1781.6 L1668.2,1765.4 L1679.3,1769.5 L1689.4,1767.4 L1699.5,1762.4 L1707.6,1753.3 L1714.6,1747.3 L1722.7,1756.3 L1726.8,1770.5 L1730.8,1783.6 L1737.9,1775.5 L1741.9,1788.6 L1745.9,1800.8 L1754.0,1805.8 L1758.0,1792.7 L1763.1,1778.6 L1772.2,1784.6 L1780.3,1796.7 L1788.3,1803.8 L1797.4,1797.7 L1805.5,1805.8 L1811.6,1792.7 L1815.6,1784.6 L1823.7,1797.7 L1830.7,1786.6 L1833.8,1776.5" stroke="#0000ff" stroke-width="8" clip-path="url(#cb)"/>
</g>
<g id="bottom-legend" shape-rendering="crispEdges">
<rect x="814" y="1720" width="18" height="293" fill="#000"/>
<rect x="402" y="1994" width="430" height="19" fill="#000"/>
<rect x="382" y="1700" width="432" height="294" fill="#000"/>
<rect x="385" y="1703" width="426" height="288" fill="#fff"/>
<line x1="391" y1="1740.9" x2="531" y2="1740.9" stroke="#000000" stroke-width="8" stroke-linecap="round"/>
<line x1="391" y1="1839.45" x2="531" y2="1839.45" stroke="#ff0000" stroke-width="8" stroke-linecap="round"/>
<line x1="391" y1="1938.0" x2="531" y2="1938.0" stroke="#0000ff" stroke-width="8" stroke-linecap="round"/>
</g>
<g id="labels">
<text class="sr" transform="translate(138.89 83.20) scale(1.0149 1)" font-size="46.73">1.0</text>
<text class="sr" transform="translate(137.93 310.20) scale(1.0091 1)" font-size="46.73">0.8</text>
<text class="sr" transform="translate(137.92 594.30) scale(1.0102 1)" font-size="46.73">0.6</text>
<text class="sr" transform="translate(137.92 822.40) scale(1.0102 1)" font-size="46.73">0.4</text>
<text class="sr" transform="translate(137.89 1105.10) scale(1.0371 1)" font-size="46.73">0.2</text>
<text class="sr" transform="translate(138.10 1333.40) scale(1.0289 1)" font-size="46.73">0.0</text>
<text class="sr" transform="translate(228.23 1413.30) scale(1.0397 1)" font-size="49.71">200</text>
<text class="sr" transform="translate(484.00 1413.30) scale(1.0397 1)" font-size="49.71">300</text>
<text class="sr" transform="translate(740.97 1413.30) scale(1.0397 1)" font-size="49.71">400</text>
<text class="sr" transform="translate(996.33 1413.30) scale(1.0397 1)" font-size="49.71">500</text>
<text class="sr" transform="translate(1252.90 1413.30) scale(1.0397 1)" font-size="49.71">600</text>
<text class="sr" transform="translate(1508.26 1413.30) scale(1.0397 1)" font-size="49.71">700</text>
<text class="sr" transform="translate(1765.23 1413.30) scale(1.0397 1)" font-size="49.71">800</text>
<text class="sr" transform="translate(823.10 1514.30) scale(0.9410 1)" font-size="64.46">Wavelength (nm)</text>
<text class="sr" transform="translate(74.10 875.90) rotate(-90) scale(0.9704 1)" font-size="64.60">Absorbance</text>
<text class="sr" transform="translate(148.63 1625.40) scale(0.9687 1)" font-size="45.54">3.0</text>
<text class="sr" transform="translate(149.70 1832.40) scale(0.9152 1)" font-size="45.54">2.5</text>
<text class="sr" transform="translate(149.65 2036.40) scale(0.9504 1)" font-size="45.54">2.0</text>
<text class="sr" transform="translate(151.88 2293.40) scale(0.8759 1)" font-size="45.54">1.5</text>
<text class="sr" transform="translate(151.75 2498.30) scale(0.9124 1)" font-size="45.54">1.0</text>
<text class="sr" transform="translate(150.62 2705.10) scale(0.8986 1)" font-size="45.54">0.5</text>
<text class="sr" transform="translate(150.57 2909.00) scale(0.9337 1)" font-size="45.54">0.0</text>
<text class="sr" transform="translate(266.40 2974.50) scale(1.0178 1)" font-size="50.31">1</text>
<text class="sr" transform="translate(578.80 2974.50) scale(1.0178 1)" font-size="50.31">2</text>
<text class="sr" transform="translate(889.20 2974.50) scale(1.0178 1)" font-size="50.31">3</text>
<text class="sr" transform="translate(1200.80 2974.50) scale(1.0178 1)" font-size="50.31">4</text>
<text class="sr" transform="translate(1511.60 2974.50) scale(1.0178 1)" font-size="50.31">5</text>
<text class="sr" transform="translate(1822.80 2974.50) scale(1.0178 1)" font-size="50.31">6</text>
<text class="sr" transform="translate(974.90 3079.50) scale(0.9504 1)" font-size="64.28">hv (eV)</text>
<text class="sr" transform="translate(84.00 2448.99) rotate(-90) scale(0.9950 1)" font-size="63.86">(F(R)*hv)^1/2</text>
<text class="sn" transform="translate(1295.14 192.40) scale(0.9679 1)" font-size="63.72">TiO</text>
<text class="sn" transform="translate(1394.06 216.70) scale(1.0781 1)" font-size="36.41">2</text>
<text class="sn" transform="translate(1432.60 192.40) scale(0.9700 1)" font-size="63.72">(C)</text>
<text class="sn" transform="translate(1296.03 289.70) scale(0.9739 1)" font-size="63.72">sg-TiO</text>
<text class="sn" transform="translate(1481.11 314.00) scale(1.1074 1)" font-size="36.41">2</text>
<text class="sn" transform="translate(1293.36 386.80) scale(0.9934 1)" font-size="63.72">F-TiO</text>
<text class="sn" transform="translate(1453.12 411.10) scale(1.1016 1)" font-size="36.41">2</text>
<text class="sn" transform="translate(1295.56 484.20) scale(0.9734 1)" font-size="63.72">0.5 Pt-F-TiO</text>
<text class="sn" transform="translate(1634.82 508.50) scale(1.1016 1)" font-size="36.41">2</text>
<text class="sn" transform="translate(1294.59 581.60) scale(0.9757 1)" font-size="63.72">2 Pt-F-TiO</text>
<text class="sn" transform="translate(1582.81 605.90) scale(1.1074 1)" font-size="36.41">2</text>
<text class="sn" transform="translate(549.12 1761.80) scale(0.9868 1)" font-size="63.72">sg-TiO</text>
<text class="sn" transform="translate(736.58 1786.10) scale(1.1250 1)" font-size="36.41">2</text>
<text class="sn" transform="translate(547.56 1860.70) scale(0.9934 1)" font-size="63.72">F-TiO</text>
<text class="sn" transform="translate(707.60 1885.00) scale(1.1133 1)" font-size="36.41">2</text>
<text class="sn" transform="translate(547.57 1958.60) scale(0.9897 1)" font-size="63.72">Pt-F-TiO</text>
<text class="sn" transform="translate(787.60 1982.90) scale(1.1133 1)" font-size="36.41">2</text>
</g>
</svg>
</body>
</html>
